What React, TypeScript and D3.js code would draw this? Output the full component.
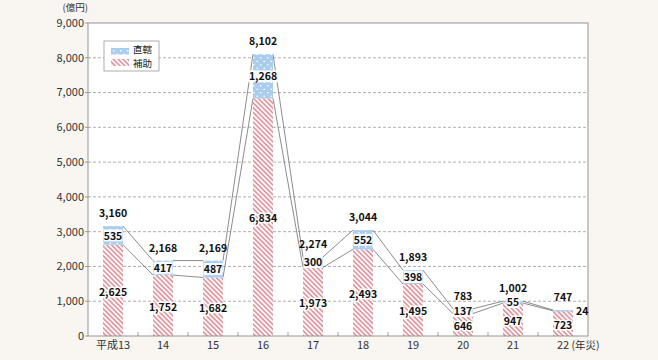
import React from "react";
import * as d3 from "d3";

const categories = ["平成13", "14", "15", "16", "17", "18", "19", "20", "21", "22"];
const directValues = [535, 417, 487, 1268, 300, 552, 398, 137, 55, 24];
const subsidyValues = [2625, 1752, 1682, 6834, 1973, 2493, 1495, 646, 947, 723];
const totalValues = [3160, 2168, 2169, 8102, 2274, 3044, 1893, 783, 1002, 747];
const yTicks = [0, 1000, 2000, 3000, 4000, 5000, 6000, 7000, 8000, 9000];
const legendLabels = ["直轄", "補助"];
const unitLabel = "(億円)";
const lastSuffix = "(年災)";

const W = 658;
const H = 360;
const M = { left: 88, right: 588, top: 23, bottom: 336 };
const FONT = "'Noto Sans CJK JP', 'Noto Sans', sans-serif";
const fmt = d3.format(",");

export default function App() {
  const x = d3
    .scaleBand<string>()
    .domain(categories)
    .range([M.left, M.right])
    .paddingInner(0.6)
    .paddingOuter(0.3);
  const y = d3.scaleLinear().domain([0, 9000]).range([M.bottom, M.top]);
  const bw = x.bandwidth();
  const step = x.step();

  const linesTotal: string[] = [];
  const linesSub: string[] = [];
  const lineGen = d3.line();
  for (let i = 0; i < categories.length - 1; i++) {
    const x0 = (x(categories[i]) as number) + bw;
    const x1 = x(categories[i + 1]) as number;
    linesTotal.push(lineGen([[x0, y(totalValues[i])], [x1, y(totalValues[i + 1])]]) as string);
    linesSub.push(lineGen([[x0, y(subsidyValues[i])], [x1, y(subsidyValues[i + 1])]]) as string);
  }

  const numStyle: React.CSSProperties = {
    fontFamily: FONT,
    fontWeight: 700,
    fontSize: 10.5,
    fill: "#111",
  };

  return (
    <svg
      width={W}
      height={H}
      style={{ position: "fixed", left: 0, top: 0, background: "#f9f5f0" }}
    >
      <defs>
        <pattern id="dots" width={7} height={7} patternUnits="userSpaceOnUse">
          <rect width={7} height={7} fill="#a9cdef" />
          <circle cx={1.75} cy={1.75} r={0.85} fill="#ffffff" />
          <circle cx={5.25} cy={5.25} r={0.85} fill="#ffffff" />
        </pattern>
        <pattern
          id="hatch"
          width={3.4}
          height={3.4}
          patternUnits="userSpaceOnUse"
          patternTransform="rotate(-45)"
        >
          <rect width={3.4} height={3.4} fill="#ffffff" />
          <rect width={1.8} height={3.4} fill="#df9aa3" />
        </pattern>
      </defs>

      <rect x={M.left} y={M.top} width={M.right - M.left} height={M.bottom - M.top} fill="#ffffff" />

      {yTicks.slice(1, -1).map((t) => (
        <line
          key={"g" + t}
          x1={M.left}
          x2={M.right}
          y1={y(t)}
          y2={y(t)}
          stroke="#9a9a9a"
          strokeWidth={0.8}
          strokeDasharray="3,2"
        />
      ))}

      {yTicks.map((t) => (
        <g key={"yt" + t}>
          <line x1={M.left - 3} x2={M.left} y1={y(t)} y2={y(t)} stroke="#888" strokeWidth={0.8} />
          <text
            x={84}
            y={y(t)}
            dy="0.35em"
            textAnchor="end"
            style={{ fontFamily: FONT, fontSize: 11, fill: "#333" }}
          >
            {fmt(t)}
          </text>
        </g>
      ))}

      <text
        x={88}
        y={11}
        textAnchor="end"
        style={{ fontFamily: FONT, fontSize: 9.5, fill: "#333" }}
      >
        {unitLabel}
      </text>

      {linesTotal.map((d, i) => (
        <path key={"lt" + i} d={d} fill="none" stroke="#6e6e6e" strokeWidth={0.8} />
      ))}
      {linesSub.map((d, i) => (
        <path key={"ls" + i} d={d} fill="none" stroke="#6e6e6e" strokeWidth={0.8} />
      ))}

      {categories.map((c, i) => {
        const bx = x(c) as number;
        return (
          <g key={"b" + c}>
            <rect
              x={bx}
              y={y(subsidyValues[i])}
              width={bw}
              height={y(0) - y(subsidyValues[i])}
              fill="url(#hatch)"
            />
            <rect
              x={bx}
              y={y(totalValues[i])}
              width={bw}
              height={Math.max(1.5, y(subsidyValues[i]) - y(totalValues[i]))}
              fill="url(#dots)"
            />
          </g>
        );
      })}

      <rect
        x={M.left}
        y={M.top}
        width={M.right - M.left}
        height={M.bottom - M.top}
        fill="none"
        stroke="#8a8a8a"
        strokeWidth={0.9}
      />

      {categories.slice(1).map((c) => {
        const tx = (x(c) as number) - (step - bw) / 2;
        return (
          <line key={"xt" + c} x1={tx} x2={tx} y1={M.bottom - 4} y2={M.bottom} stroke="#8a8a8a" strokeWidth={0.8} />
        );
      })}

      {categories.map((c, i) => {
        const cx = (x(c) as number) + bw / 2;
        const isLast = i === categories.length - 1;
        return (
          <g key={"xl" + c}>
            <text
              x={cx}
              y={349}
              textAnchor="middle"
              style={{ fontFamily: FONT, fontSize: 11, fill: "#333" }}
            >
              {c}
            </text>
            {isLast && (
              <text x={cx + 8.5} y={349} textAnchor="start" style={{ fontFamily: FONT, fontSize: 10.5, fill: "#333" }}>
                {lastSuffix}
              </text>
            )}
          </g>
        );
      })}

      {categories.map((c, i) => {
        const bx = x(c) as number;
        const cx = bx + bw / 2;
        const yTop = y(totalValues[i]);
        const ySub = y(subsidyValues[i]);
        const isLast = i === categories.length - 1;
        const blueCy = (yTop + ySub) / 2;
        const redCy = (ySub + y(0)) / 2 + 1.5;
        const dLabel = fmt(directValues[i]);
        const dw = dLabel.length * 6 + 1;
        return (
          <g key={"lab" + c}>
            <text x={cx} y={yTop - 9} textAnchor="middle" style={numStyle}>
              {fmt(totalValues[i])}
            </text>
            {isLast ? (
              <text x={bx + bw + 3} y={blueCy + 1} dy="0.35em" textAnchor="start" style={numStyle}>
                {dLabel}
              </text>
            ) : (
              <g>
                <rect x={cx - dw / 2} y={blueCy - 6} width={dw} height={12} fill="#ffffff" opacity={0.9} />
                <text x={cx} y={blueCy + 0.5} dy="0.35em" textAnchor="middle" style={numStyle}>
                  {dLabel}
                </text>
              </g>
            )}
            <text
              x={cx}
              y={redCy}
              dy="0.35em"
              textAnchor="middle"
              style={{ ...numStyle, stroke: "#ffffff", strokeWidth: 3, paintOrder: "stroke", strokeLinejoin: "round" }}
            >
              {fmt(subsidyValues[i])}
            </text>
          </g>
        );
      })}

      <g>
        <rect x={104} y={41} width={55} height={30} fill="#ffffff" stroke="#999" strokeWidth={0.8} />
        <rect x={111} y={48} width={18} height={6.5} fill="url(#dots)" />
        <rect x={111} y={59} width={18} height={7} fill="url(#hatch)" />
        <text x={133} y={49.5} dy="0.35em" style={{ fontFamily: FONT, fontSize: 9.5, fill: "#222" }}>
          {legendLabels[0]}
        </text>
        <text x={133} y={63.5} dy="0.35em" style={{ fontFamily: FONT, fontSize: 9.5, fill: "#222" }}>
          {legendLabels[1]}
        </text>
      </g>
    </svg>
  );
}
